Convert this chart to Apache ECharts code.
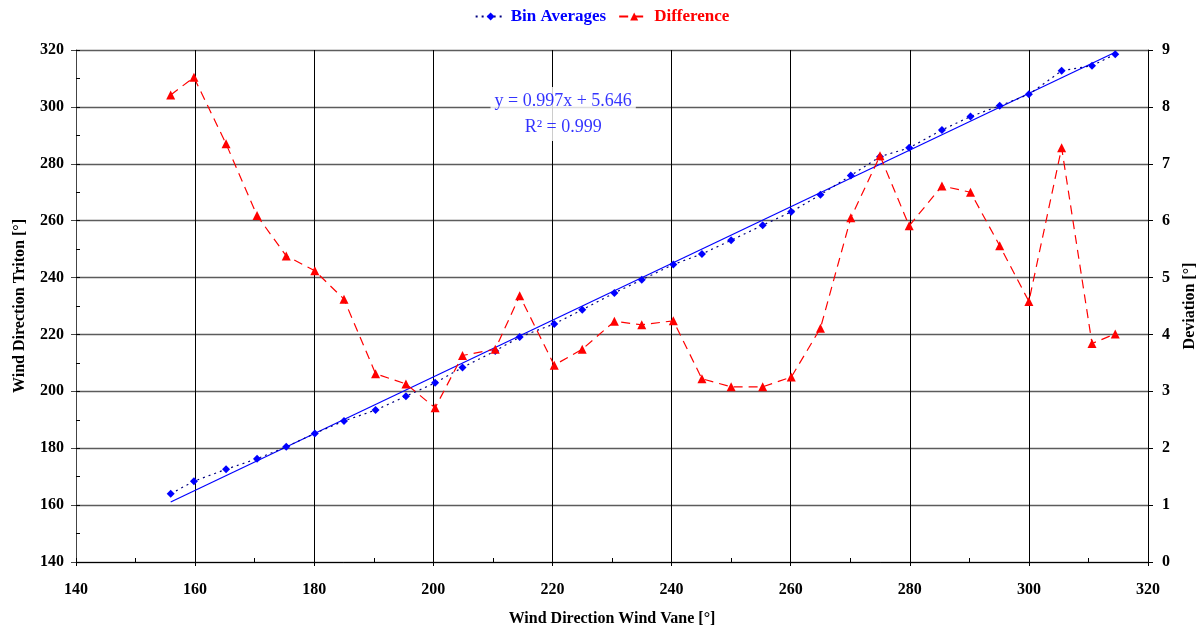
<!DOCTYPE html>
<html>
<head>
<meta charset="utf-8">
<script src="https://cdn.jsdelivr.net/npm/echarts@6/dist/echarts.min.js"></script>
<style>
  html, body { margin: 0; padding: 0; background: #fff; }
  #chart { width: 1204px; height: 628px; }
</style>
</head>
<body>
<div id="chart"></div>
<script>
// Wind vane direction bins (x), Triton bin averages (left axis) and their deviation (right axis)
const vaneBins = [155.9, 159.8, 165.2, 170.4, 175.3, 180.1, 185.0, 190.3, 195.4, 200.3, 204.9,
                  210.4, 214.5, 220.3, 225.0, 230.4, 235.0, 240.3, 245.1, 250.0, 255.3, 260.1,
                  265.0, 270.1, 275.0, 279.9, 285.4, 290.2, 295.1, 300.0, 305.5, 310.6, 314.5];
const binAverages = [164.0, 168.4, 172.6, 176.3, 180.5, 185.2, 189.6, 193.4, 198.3, 203.0, 208.4,
                     214.2, 219.1, 223.7, 228.7, 234.6, 239.2, 244.6, 248.3, 253.1, 258.4, 263.1,
                     269.1, 275.9, 282.5, 285.6, 291.9, 296.6, 300.4, 304.4, 312.7, 314.5, 318.5];
const difference = [8.21, 8.52, 7.35, 6.09, 5.38, 5.12, 4.62, 3.31, 3.13, 2.71, 3.63,
                    3.74, 4.68, 3.46, 3.74, 4.23, 4.17, 4.24, 3.22, 3.08, 3.08, 3.25,
                    4.11, 6.05, 7.14, 5.91, 6.61, 6.50, 5.56, 4.58, 7.28, 3.84, 4.01];

// Linear fit of the bin averages
const fitSlope = 0.997;
const fitIntercept = 5.646;
const fitR2 = 0.999;
const fitText = ['y = ' + fitSlope.toFixed(3) + 'x + ' + fitIntercept.toFixed(3), 'R\u00B2 = ' + fitR2.toFixed(3)];
const fitLabelAt = [221.8, 297.5];

const xTicks = { min: 140, max: 320, step: 20 };
const leftTicks = { min: 140, max: 320, step: 20 };
const rightTicks = { min: 0, max: 9, step: 1 };

const serif = '"Liberation Serif", "Times New Roman", serif';

const fitEnds = [vaneBins[0], vaneBins[vaneBins.length - 1]];
const fitLine = fitEnds.map(x => [x, fitSlope * x + fitIntercept]);

const labelStyle = { fontFamily: serif, fontWeight: 'bold', fontSize: 16, color: '#000' };

const chart = echarts.init(document.getElementById('chart'), null, { renderer: 'canvas' });
chart.setOption({
  animation: false,
  backgroundColor: '#fff',
  grid: { left: 76, right: 56, top: 50, bottom: 66, containLabel: false, outerBoundsMode: 'none' },
  legend: {
    top: 3,
    left: 'center',
    data: [
      { name: 'Bin Averages', textStyle: { color: '#0000ff' } },
      { name: 'Difference', textStyle: { color: '#ff0000' } }
    ],
    itemWidth: 30,
    itemHeight: 10,
    itemGap: 12,
    textStyle: { fontFamily: serif, fontWeight: 'bold', fontSize: 17 }
  },
  xAxis: [{
    type: 'value',
    min: xTicks.min, max: xTicks.max, interval: xTicks.step,
    name: 'Wind Direction Wind Vane [\u00B0]',
    nameLocation: 'middle',
    nameGap: 49,
    nameTextStyle: labelStyle,
    axisLine: { show: true, onZero: false, lineStyle: { color: '#000', width: 1 } },
    axisTick: { show: true, inside: false, length: 4, lineStyle: { color: '#000' } },
    axisLabel: Object.assign({ margin: 20 }, labelStyle),
    splitLine: { show: true, lineStyle: { color: '#000', width: 1 } }
  }, {
    // inner minor ticks along the bottom edge
    type: 'value', position: 'bottom',
    min: xTicks.min, max: xTicks.max, interval: xTicks.step / 2,
    axisLine: { show: false },
    axisTick: { show: true, inside: true, length: 4, lineStyle: { color: '#000' } },
    axisLabel: { show: false },
    splitLine: { show: false }
  }],
  yAxis: [{
    type: 'value',
    position: 'left',
    min: leftTicks.min, max: leftTicks.max, interval: leftTicks.step,
    name: 'Wind Direction Triton [\u00B0]',
    nameLocation: 'middle',
    nameGap: 48,
    nameTextStyle: labelStyle,
    axisLine: { show: true, onZero: false, lineStyle: { color: '#444', width: 1 } },
    axisTick: { show: true, inside: false, length: 5, lineStyle: { color: '#444' } },
    axisLabel: Object.assign({ margin: 12 }, labelStyle),
    splitLine: { show: true, lineStyle: { color: '#5c5c5c', width: 1.3 } }
  }, {
    type: 'value',
    position: 'right',
    min: rightTicks.min, max: rightTicks.max, interval: rightTicks.step,
    name: 'Deviation [\u00B0]',
    nameLocation: 'middle',
    nameGap: 34,
    nameRotate: 90,
    nameTextStyle: labelStyle,
    axisLine: { show: true, onZero: false, lineStyle: { color: '#000', width: 1 } },
    axisTick: { show: true, inside: false, length: 5, lineStyle: { color: '#000' } },
    axisLabel: Object.assign({ margin: 14 }, labelStyle),
    splitLine: { show: false }
  }, {
    // inner minor ticks along the left edge
    type: 'value', position: 'left',
    min: leftTicks.min, max: leftTicks.max, interval: leftTicks.step / 2,
    axisLine: { show: false },
    axisTick: { show: true, inside: true, length: 4, lineStyle: { color: '#000' } },
    axisLabel: { show: false },
    splitLine: { show: false }
  }],
  series: [{
    name: 'Linear fit',
    type: 'line',
    xAxisIndex: 0, yAxisIndex: 0,
    data: fitLine,
    symbol: 'none',
    lineStyle: { color: '#0000ff', width: 1.2 },
    z: 3,
    silent: true
  }, {
    name: 'Bin Averages',
    type: 'line',
    xAxisIndex: 0, yAxisIndex: 0,
    data: vaneBins.map((x, i) => [x, binAverages[i]]),
    symbol: 'diamond',
    symbolSize: 8,
    itemStyle: { color: '#0000ff' },
    lineStyle: { color: '#000080', width: 1.2, type: [2, 4] },
    z: 4
  }, {
    name: 'Difference',
    type: 'line',
    xAxisIndex: 0, yAxisIndex: 1,
    data: vaneBins.map((x, i) => [x, difference[i]]),
    symbol: 'triangle',
    symbolSize: 9,
    itemStyle: { color: '#ff0000' },
    lineStyle: { color: '#ff0000', width: 1.2, type: [9, 6] },
    z: 5
  }, {
    name: 'Fit label',
    type: 'scatter',
    xAxisIndex: 0, yAxisIndex: 0,
    data: [fitLabelAt],
    symbolSize: 0,
    silent: true,
    z: 6,
    label: {
      show: true,
      position: 'inside',
      formatter: fitText.join('\n'),
      fontFamily: serif,
      fontSize: 18,
      lineHeight: 26,
      color: '#0000ff',
      backgroundColor: '#fff',
      padding: [1, 4]
    }
  }]
});
</script>
</body>
</html>
